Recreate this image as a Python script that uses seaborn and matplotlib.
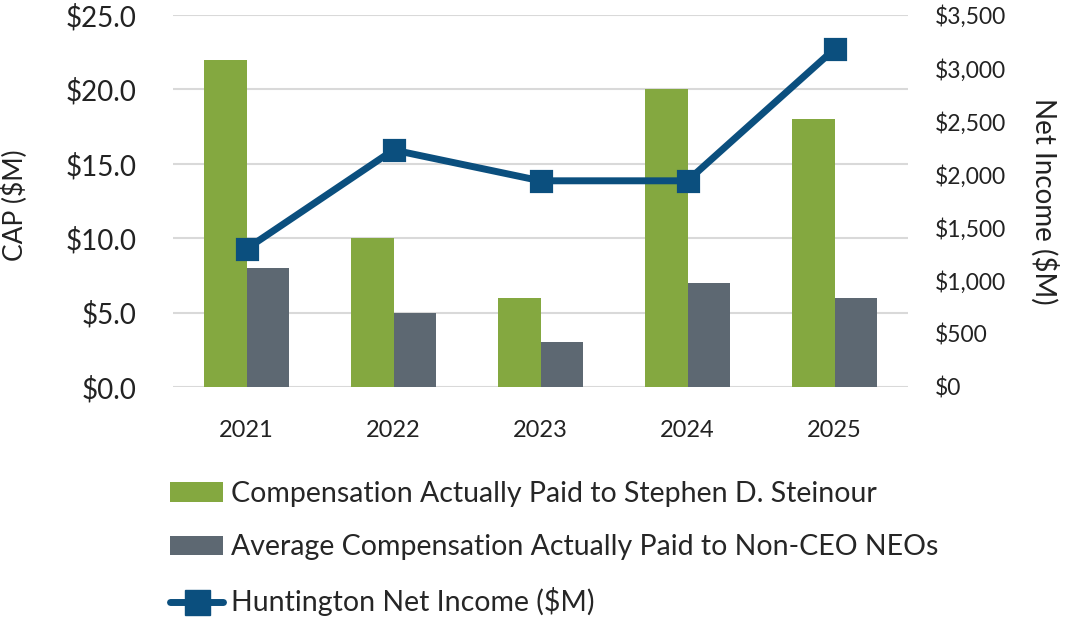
import matplotlib
matplotlib.use("Agg")
import matplotlib.pyplot as plt
import seaborn as sns
import pandas as pd
import numpy as np
from matplotlib.patches import Patch
from matplotlib.lines import Line2D
from matplotlib.ticker import FuncFormatter, MultipleLocator

years = ["2021", "2022", "2023", "2024", "2025"]
ceo_cap = [22.0, 10.0, 6.0, 20.0, 18.0]
neo_cap = [8.0, 5.0, 3.0, 7.0, 6.0]
net_income = [1300, 2230, 1940, 1940, 3180]

series_names = ["Compensation Actually Paid to Stephen D. Steinour",
                "Average Compensation Actually Paid to Non-CEO NEOs"]
line_name = "Huntington Net Income ($M)"

GREEN = "#84A840"
GREY = "#5D6872"
BLUE = "#0B4F7E"
TEXT = "#222222"

df = pd.DataFrame({
    "Year": years * 2,
    "CAP": ceo_cap + neo_cap,
    "Series": [series_names[0]] * len(years) + [series_names[1]] * len(years),
})

sns.set_theme(style="white")
plt.rcParams['font.family'] = ['Lato', 'DejaVu Sans']

fig = plt.figure(figsize=(10.66, 6.17), dpi=100)
ax = fig.add_axes([173/1066, 1 - 387/617, (908-173)/1066, (387-15)/617])

sns.barplot(data=df, x="Year", y="CAP", hue="Series", order=years,
            hue_order=series_names, palette=[GREEN, GREY], width=0.585,
            gap=0, saturation=1, ax=ax, legend=False, linewidth=0)
ax.set_xlim(-0.5, len(years) - 0.5)
ax.set_ylim(0, 25)
ax.yaxis.set_major_locator(MultipleLocator(5))
ax.yaxis.set_major_formatter(FuncFormatter(lambda v, p: f"${v:.1f}"))
ax.grid(axis="y", color="#D9D9D9", linewidth=1.5)
ax.set_axisbelow(True)
for s in ax.spines.values():
    s.set_visible(False)
ax.set_xlabel("")
ax.set_ylabel("CAP ($M)", fontsize=19, color=TEXT, va="center")
ax.yaxis.set_label_coords(-0.215, 0.49)
ax.tick_params(axis="both", length=0, colors=TEXT)
ax.tick_params(axis="x", pad=24, labelsize=17)
ax.tick_params(axis="y", pad=26, labelsize=20)

ax2 = ax.twinx()
sns.pointplot(x=years, y=net_income, ax=ax2, color=BLUE, markers="s",
              markersize=13, linewidth=5, errorbar=None)
ax2.set_xlim(-0.5, len(years) - 0.5)
ax2.set_ylim(0, 3500)
ax2.yaxis.set_major_locator(MultipleLocator(500))
ax2.yaxis.set_major_formatter(FuncFormatter(lambda v, p: f"${v:,.0f}"))
ax2.grid(False)
for s in ax2.spines.values():
    s.set_visible(False)
ax2.tick_params(axis="y", length=0, labelsize=16.5, colors=TEXT, pad=19)
ax2.set_ylabel("Net Income ($M)", fontsize=20, color=TEXT, rotation=270,
               va="center")
ax2.yaxis.set_label_coords(1.186, 0.5)

handles = [Patch(facecolor=GREEN, edgecolor="none"),
           Patch(facecolor=GREY, edgecolor="none"),
           Line2D([0], [0], color=BLUE, linewidth=5, marker="s",
                  markersize=18, solid_capstyle="round")]
labels = series_names + [line_name]
fig.legend(handles, labels, loc="upper left",
           bbox_to_anchor=(159/1066, 1 - 470/617), frameon=False,
           handlelength=1.85, handleheight=0.7,
           handletextpad=0.28, labelspacing=0.95, borderaxespad=0,
           prop={'family': ['Lato', 'DejaVu Sans'], 'size': 20.5})

fig.savefig("out.png", dpi=100)
